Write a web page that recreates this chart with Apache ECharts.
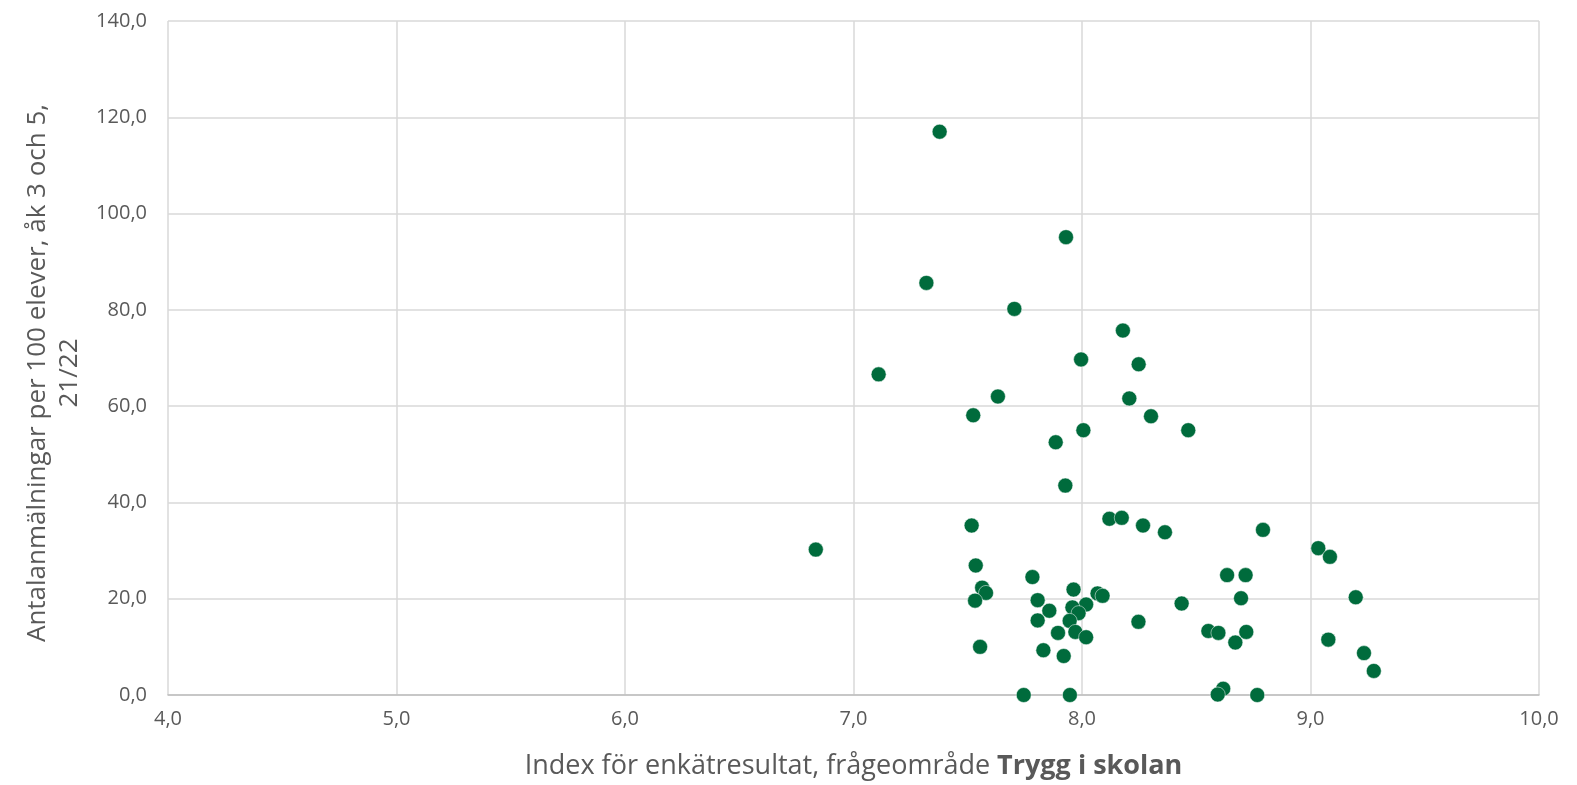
<!DOCTYPE html>
<html><head><meta charset="utf-8">
<script src="https://cdn.jsdelivr.net/npm/echarts@6/dist/echarts.min.js"></script>
<style>html,body{margin:0;padding:0;background:#fff}#c{width:1577px;height:785px}</style>
</head><body><div id="c"></div>
<script>
const xValues = [7.377,7.930,7.319,7.704,8.179,7.996,8.248,7.110,7.632,8.207,7.524,8.302,8.465,8.006,7.885,7.927,
  6.835,7.517,8.120,8.174,8.267,8.363,7.535,7.783,7.563,7.580,7.532,7.963,8.068,8.090,7.806,8.018,7.958,7.857,7.985,
  7.806,7.946,7.971,7.895,8.018,7.554,7.831,7.920,7.745,7.947,8.247,8.436,
  8.792,9.034,9.085,8.635,8.716,8.696,9.198,8.553,8.597,8.719,8.671,9.078,9.234,9.277,8.618,8.594,8.767];
const yValues = [117.0,95.1,85.6,80.2,75.7,69.7,68.7,66.6,62.0,61.6,58.1,57.9,55.0,55.0,52.5,43.5,
  30.2,35.2,36.6,36.8,35.2,33.8,26.9,24.5,22.3,21.2,19.6,21.9,21.1,20.6,19.7,18.8,18.2,17.5,17.0,
  15.5,15.4,13.1,12.9,12.0,10.0,9.3,8.1,0.0,0.0,15.2,19.0,
  34.3,30.5,28.7,24.9,24.9,20.1,20.3,13.3,12.9,13.1,10.9,11.5,8.7,5.0,1.3,0.1,0.0];
const xTicks = [4,5,6,7,8,9,10];
const yTicks = [0,20,40,60,80,100,120,140];
const xTitle = 'Index för enkätresultat, frågeområde ';
const xTitleBold = 'Trygg i skolan';
const yTitle = 'Antalanmälningar per 100 elever, åk 3 och 5,\n21/22';

const pts = xValues.map((x,i)=>[x,yValues[i]]);
const fmt = v => v.toFixed(1).replace('.', ',');
const font = '"Open Sans", "Noto Sans", sans-serif';
const chart = echarts.init(document.getElementById('c'));
chart.setOption({
  animation:false,
  backgroundColor:'#fff',
  grid:{left:168,right:38,top:21,bottom:90,containLabel:false,outerBoundsMode:'none'},
  xAxis:{type:'value',min:xTicks[0],max:xTicks[xTicks.length-1],interval:1,
    name:'{n|'+xTitle+'}{b|'+xTitleBold+'}',nameLocation:'middle',nameGap:58,
    nameTextStyle:{rich:{n:{fontFamily:font,fontSize:27,color:'#595959'},b:{fontFamily:font,fontSize:27,color:'#595959',fontWeight:'bold'}}},
    axisLine:{show:true,lineStyle:{color:'#BFBFBF',width:1.5}},axisTick:{show:false},
    axisLabel:{formatter:fmt,color:'#595959',fontFamily:font,fontSize:20,margin:14},
    splitLine:{show:true,lineStyle:{color:'#D9D9D9',width:1.5}}},
  yAxis:{type:'value',min:yTicks[0],max:yTicks[yTicks.length-1],interval:20,
    name:yTitle,nameLocation:'middle',nameGap:82,nameRotate:90,
    nameTextStyle:{fontFamily:font,fontSize:26,color:'#595959',lineHeight:32,align:'center',padding:[0,0,0,-30]},
    axisLine:{show:false},axisTick:{show:false},
    axisLabel:{formatter:fmt,color:'#595959',fontFamily:font,fontSize:20,margin:21},
    splitLine:{show:true,lineStyle:{color:'#D9D9D9',width:1.5}}},
  series:[{type:'scatter',data:pts,symbol:'circle',symbolSize:15,
    itemStyle:{color:'#006B3C',borderColor:'#fff',borderWidth:0.5,opacity:1}}]
});
</script></body></html>
